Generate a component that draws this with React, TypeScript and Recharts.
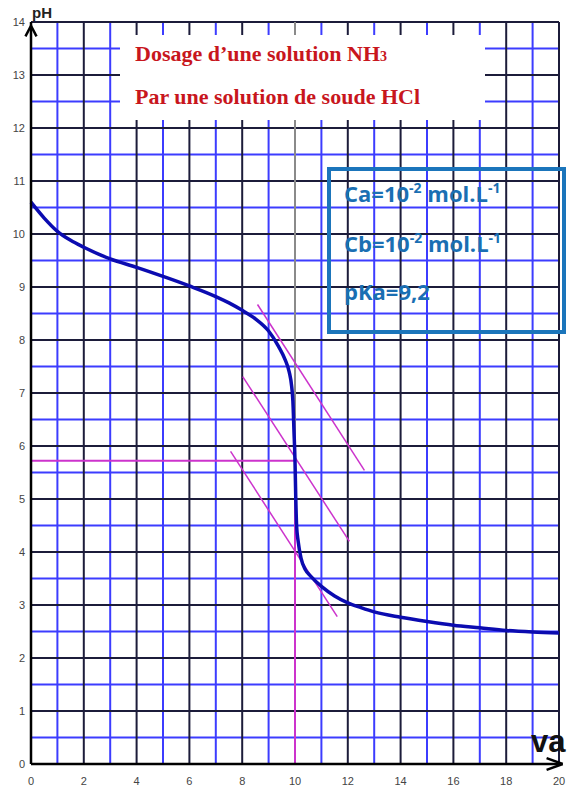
import React from 'react';
import { LineChart, Line, XAxis, YAxis, CartesianGrid, ReferenceLine } from 'recharts';

// courbe de dosage (volume versé en mL, pH)
const VA = [0, 0.5, 1, 1.5, 2, 3, 4, 5, 6, 7, 7.5, 8, 8.5, 9, 9.375, 9.625, 9.78, 9.875, 9.92, 9.96, 10, 10.03, 10.06, 10.12, 10.23, 10.4, 10.6, 11, 11.5, 12, 12.5, 13, 14, 15, 16, 17, 18, 19, 20];
const PH = [10.6, 10.3, 10.05, 9.88, 9.75, 9.53, 9.37, 9.2, 9.02, 8.82, 8.7, 8.56, 8.4, 8.17, 7.88, 7.63, 7.4, 7.12, 6.85, 6.3, 5.72, 5.0, 4.5, 4.2, 3.88, 3.66, 3.54, 3.35, 3.17, 3.04, 2.95, 2.87, 2.77, 2.69, 2.62, 2.57, 2.52, 2.49, 2.47];

const X_TICKS = [0, 2, 4, 6, 8, 10, 12, 14, 16, 18, 20];
const Y_TICKS = [0, 1, 2, 3, 4, 5, 6, 7, 8, 9, 10, 11, 12, 13, 14];

// quadrillage
const GRID_X_DARK = [2, 4, 6, 8, 12, 14, 16, 18, 20];
const GRID_X_BLUE = [1, 3, 5, 7, 9, 11, 13, 15, 17, 19];
const GRID_X_GRAY = [10];
const GRID_Y_DARK = [1, 2, 3, 4, 5, 6, 7, 8, 9, 10, 11, 12, 13, 14];
const GRID_Y_BLUE = [0.5, 1.5, 2.5, 3.5, 4.5, 5.5, 6.5, 7.5, 8.5, 9.5, 10.5, 11.5, 12.5, 13.5];

// méthode des tangentes
const TANGENTS = [
  [{ x: 8.58, y: 8.67 }, { x: 12.63, y: 5.54 }],
  [{ x: 8.02, y: 7.31 }, { x: 12.06, y: 4.2 }],
  [{ x: 7.56, y: 5.9 }, { x: 11.6, y: 2.78 }],
];
const EQ_VA = 10;
const EQ_PH = 5.72;

const data = VA.map((va, i) => ({ va, pH: PH[i] }));

const MAGENTA = '#cc33cc';
const tickStyle = { fontSize: 11, fill: '#444', fontFamily: 'Liberation Sans, Arial, sans-serif' };

export default function App() {
  return (
    <div style={{ position: 'absolute', left: 0, top: 0, width: 581, height: 787, background: '#fff' }}>
      <LineChart width={581} height={787} data={data} margin={{ top: 22, right: 22, bottom: 0, left: 0 }}>
        <CartesianGrid stroke="#3c3cff" strokeWidth={2} verticalValues={GRID_X_BLUE} horizontalValues={GRID_Y_BLUE} />
        <CartesianGrid stroke="#1c1c3a" strokeWidth={2} verticalValues={GRID_X_DARK} horizontalValues={GRID_Y_DARK} />
        <CartesianGrid stroke="#8a8a8a" strokeWidth={2} verticalValues={GRID_X_GRAY} horizontal={false} />
        <XAxis
          dataKey="va"
          type="number"
          domain={[0, 20]}
          ticks={X_TICKS}
          height={23}
          tickSize={0}
          tickMargin={13}
          tick={tickStyle}
          axisLine={{ stroke: '#000', strokeWidth: 2.5 }}
        />
        <YAxis
          type="number"
          domain={[0, 14]}
          ticks={Y_TICKS}
          width={31}
          tickSize={0}
          tickMargin={6}
          tick={tickStyle}
          axisLine={{ stroke: '#000', strokeWidth: 2.5 }}
        />
        <ReferenceLine segment={[{ x: 0, y: EQ_PH }, { x: EQ_VA, y: EQ_PH }]} stroke={MAGENTA} strokeWidth={2} />
        <ReferenceLine segment={[{ x: EQ_VA, y: 0 }, { x: EQ_VA, y: EQ_PH }]} stroke={MAGENTA} strokeWidth={2} />
        {TANGENTS.map((seg, i) => (
          <ReferenceLine key={i} segment={seg} stroke={MAGENTA} strokeWidth={1.5} />
        ))}
        {/* flèches des axes */}
        <ReferenceLine segment={[{ x: -0.21, y: 13.73 }, { x: 0, y: 13.93 }]} stroke="#000" strokeWidth={2.5} ifOverflow="visible" />
        <ReferenceLine segment={[{ x: 0.21, y: 13.73 }, { x: 0, y: 13.93 }]} stroke="#000" strokeWidth={2.5} ifOverflow="visible" />
        <ReferenceLine segment={[{ x: 19.53, y: 0.11 }, { x: 20.14, y: 0 }]} stroke="#000" strokeWidth={2.5} ifOverflow="visible" />
        <ReferenceLine segment={[{ x: 19.53, y: -0.11 }, { x: 20.14, y: 0 }]} stroke="#000" strokeWidth={2.5} ifOverflow="visible" />
        <Line
          type="monotone"
          dataKey="pH"
          stroke="#0b0bb0"
          strokeWidth={3.5}
          dot={false}
          activeDot={false}
          isAnimationActive={false}
        />
      </LineChart>

      {/* titre */}
      <div
        style={{
          position: 'absolute', left: 120, top: 35, width: 365, height: 85, background: '#fff',
          fontFamily: 'Liberation Serif, Times New Roman, serif', fontWeight: 700, fontSize: 22, color: '#c8161d',
        }}
      >
        <div style={{ position: 'absolute', left: 15, top: 8.3, lineHeight: '22px', whiteSpace: 'nowrap' }}>
          Dosage d’une solution NH<span style={{ fontSize: 14 }}>3</span>
        </div>
        <div style={{ position: 'absolute', left: 15, top: 50.6, lineHeight: '22px', whiteSpace: 'nowrap' }}>
          Par une solution de soude HCl
        </div>
      </div>

      {/* données */}
      <div
        style={{
          position: 'absolute', left: 327, top: 166.5, width: 239, height: 167, boxSizing: 'border-box',
          border: '4px solid #1b75bb', fontFamily: 'Open Sans, sans-serif', fontWeight: 700, fontSize: 22,
          color: '#1a6fb3', lineHeight: '22px',
        }}
      >
        {[
          { top: 11.5, main: 'Ca=10', sup: '-2', unit: ' mol.L', sup2: '-1' },
          { top: 61.5, main: 'Cb=10', sup: '-2', unit: ' mol.L', sup2: '-1' },
        ].map((l, i) => (
          <div key={i} style={{ position: 'absolute', left: 13, top: l.top, whiteSpace: 'nowrap' }}>
            {l.main}
            <span style={{ fontSize: 14, position: 'relative', top: -9 }}>{l.sup}</span>
            {l.unit}
            <span style={{ fontSize: 14, position: 'relative', top: -9 }}>{l.sup2}</span>
          </div>
        ))}
        <div style={{ position: 'absolute', left: 13, top: 109.9, whiteSpace: 'nowrap' }}>pKa=9,2</div>
      </div>

      {/* libellés des axes */}
      <div style={{ position: 'absolute', left: 32, top: 5, fontFamily: 'Liberation Sans, Arial, sans-serif', fontWeight: 700, fontSize: 15, lineHeight: '15px', color: '#222' }}>
        pH
      </div>
      <div style={{ position: 'absolute', left: 531, top: 725.8, fontFamily: 'Liberation Sans, Arial, sans-serif', fontWeight: 700, fontSize: 31, lineHeight: '31px', color: '#111' }}>
        va
      </div>
    </div>
  );
}
